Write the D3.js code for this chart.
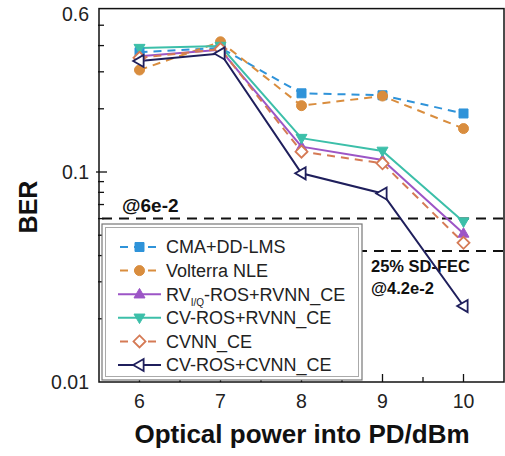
<!DOCTYPE html>
<html>
<head>
<meta charset="utf-8">
<script src="https://cdn.jsdelivr.net/npm/d3@7"></script>
<style>
  html, body { margin: 0; padding: 0; background: #fff; }
  svg { display: block; font-family: "Liberation Sans", Arial, sans-serif; }
</style>
</head>
<body>
<svg id="chart" width="505" height="456"></svg>
<script>
// Optical power (dBm) on the x axis
const power = [6, 7, 8, 9, 10];

// BER for each equalizer scheme
const cmaDdLms    = [0.372, 0.39, 0.237, 0.232, 0.19];
const volterraNle = [0.306, 0.417, 0.207, 0.23, 0.161];
const rvRosRvnn   = [0.356, 0.382, 0.132, 0.114, 0.051];
const cvRosRvnn   = [0.389, 0.398, 0.145, 0.126, 0.058];
const cvnnCe      = [0.35, 0.385, 0.125, 0.110, 0.046];
const cvRosCvnn   = [0.338, 0.367, 0.0986, 0.079, 0.023];

// FEC thresholds
const fecLimits = [0.06, 0.042];

const yTickLabels = [0.01, 0.1, 0.6];
const xTickLabels = [6, 7, 8, 9, 10];

const series = [
  { name: "CMA+DD-LMS", values: cmaDdLms, color: "#2f93d9", dash: "8,6", marker: "square", fill: true },
  { name: "Volterra NLE", values: volterraNle, color: "#d98d3e", dash: "8,6", marker: "circle", fill: true },
  { name: "RV_I/Q-ROS+RVNN_CE", values: rvRosRvnn, color: "#9c55c6", dash: null, marker: "triangleUp", fill: true },
  { name: "CV-ROS+RVNN_CE", values: cvRosRvnn, color: "#3cbfa9", dash: null, marker: "triangleDown", fill: true },
  { name: "CVNN_CE", values: cvnnCe, color: "#d57a55", dash: "8,6", marker: "diamond", fill: false },
  { name: "CV-ROS+CVNN_CE", values: cvRosCvnn, color: "#1f1f5c", dash: null, marker: "triangleLeft", fill: false }
];

const svg = d3.select("#chart");
const plotL = 99, plotR = 504, plotT = 8.6, plotB = 382;

const x = d3.scaleLinear().domain([5.5, 10.5]).range([plotL, plotR]);
const y = d3.scaleLog().domain([0.01, 0.6]).range([plotB, plotT]);

// marker paths centred on the origin
function markerPath(type, s) {
  switch (type) {
    case "square": return `M${-s},${-s}H${s}V${s}H${-s}Z`;
    case "circle": return d3.symbol(d3.symbolCircle, Math.PI * s * s)();
    case "triangleUp": return `M0,${-s * 1.15}L${s * 1.1},${s * 0.75}L${-s * 1.1},${s * 0.75}Z`;
    case "triangleDown": return `M0,${s * 1.15}L${s * 1.1},${-s * 0.75}L${-s * 1.1},${-s * 0.75}Z`;
    case "diamond": return `M0,${-s * 1.2}L${s * 1.2},0L0,${s * 1.2}L${-s * 1.2},0Z`;
    case "triangleLeft": return `M${-s * 1.15},0L${s * 0.75},${-s * 1.1}L${s * 0.75},${s * 1.1}Z`;
  }
}
const markerSize = { square: 4.5, circle: 5, triangleUp: 5, triangleDown: 5, diamond: 5, triangleLeft: 5.5 };

// frame
svg.append("rect")
  .attr("x", plotL).attr("y", plotT)
  .attr("width", plotR - plotL).attr("height", plotB - plotT)
  .attr("fill", "none").attr("stroke", "#111").attr("stroke-width", 1.5);

// y ticks (inward), majors at decades
const yMinor = [0.02, 0.03, 0.04, 0.05, 0.06, 0.07, 0.08, 0.09, 0.2, 0.3, 0.4, 0.5];
const yAxis = svg.append("g");
yAxis.selectAll("line.minor").data(yMinor).join("line")
  .attr("x1", plotL - 1).attr("x2", plotL + 5)
  .attr("y1", d => y(d)).attr("y2", d => y(d))
  .attr("stroke", "#111").attr("stroke-width", 1.3);
yAxis.selectAll("line.major").data([0.1]).join("line")
  .attr("x1", plotL - 3).attr("x2", plotL + 8)
  .attr("y1", d => y(d)).attr("y2", d => y(d))
  .attr("stroke", "#111").attr("stroke-width", 1.3);
yAxis.selectAll("text").data(yTickLabels).join("text")
  .attr("x", plotL - 10)
  .attr("y", d => d === 0.6 ? y(d) + 6 : y(d))
  .attr("dy", "0.35em")
  .attr("text-anchor", "end")
  .attr("font-size", 19.5)
  .attr("fill", "#222")
  .text(d => d);

// x ticks (inward), minors at half units
const xAxis = svg.append("g");
xAxis.selectAll("line.minor").data(d3.range(6.5, 10.5, 1)).join("line")
  .attr("x1", d => x(d)).attr("x2", d => x(d))
  .attr("y1", plotB).attr("y2", plotB - 5)
  .attr("stroke", "#111").attr("stroke-width", 1.3);
xAxis.selectAll("line.major").data(xTickLabels).join("line")
  .attr("x1", d => x(d)).attr("x2", d => x(d))
  .attr("y1", plotB).attr("y2", plotB - 8)
  .attr("stroke", "#111").attr("stroke-width", 1.3);
xAxis.selectAll("text").data(xTickLabels).join("text")
  .attr("x", d => x(d)).attr("y", 408)
  .attr("text-anchor", "middle")
  .attr("font-size", 19.5)
  .attr("fill", "#222")
  .text(d => d);

// axis titles
svg.append("text")
  .attr("x", 302).attr("y", 443)
  .attr("text-anchor", "middle")
  .attr("font-size", 26).attr("font-weight", "bold")
  .attr("fill", "#111")
  .text("Optical power into PD/dBm");
svg.append("text")
  .attr("transform", "translate(37,207) rotate(-90)")
  .attr("text-anchor", "middle")
  .attr("font-size", 25).attr("font-weight", "bold")
  .attr("fill", "#111")
  .text("BER");

// FEC threshold lines
svg.selectAll("line.fec").data(fecLimits).join("line")
  .attr("class", "fec")
  .attr("x1", plotL + 3).attr("x2", plotR)
  .attr("y1", d => y(d)).attr("y2", d => y(d))
  .attr("stroke", "#111").attr("stroke-width", 2)
  .attr("stroke-dasharray", "10,7");

svg.append("text")
  .attr("x", 122).attr("y", 212)
  .attr("font-size", 19).attr("font-weight", "bold").attr("fill", "#111")
  .text("@6e-2");
svg.append("text")
  .attr("x", 371).attr("y", 272)
  .attr("font-size", 16.5).attr("font-weight", "bold").attr("fill", "#111")
  .text("25% SD-FEC");
svg.append("text")
  .attr("x", 371).attr("y", 294)
  .attr("font-size", 16.5).attr("font-weight", "bold").attr("fill", "#111")
  .text("@4.2e-2");

// curves
const line = d3.line().x((d, i) => x(power[i])).y(d => y(d));
const curves = svg.append("g");
series.forEach(s => {
  curves.append("path")
    .attr("d", line(s.values))
    .attr("fill", "none")
    .attr("stroke", s.color)
    .attr("stroke-width", 2)
    .attr("stroke-dasharray", s.dash);
});
series.forEach(s => {
  curves.selectAll(null).data(s.values).join("path")
    .attr("transform", (d, i) => `translate(${x(power[i])},${y(d)})`)
    .attr("d", markerPath(s.marker, markerSize[s.marker]))
    .attr("fill", s.fill ? s.color : "#fff")
    .attr("stroke", s.color)
    .attr("stroke-width", s.fill ? 1 : 1.8);
});

// legend
const lg = svg.append("g");
lg.append("rect")
  .attr("x", 102).attr("y", 224).attr("width", 260).attr("height", 156)
  .attr("fill", "#fff").attr("stroke", "#777").attr("stroke-width", 1.2);
lg.append("rect")
  .attr("x", 105.5).attr("y", 227.5).attr("width", 253).attr("height", 149)
  .attr("fill", "none").attr("stroke", "#aaa").attr("stroke-width", 1);

const rowY = i => 247 + i * 23.6;
series.forEach((s, i) => {
  const cy = rowY(i);
  lg.append("line")
    .attr("x1", 118).attr("x2", 161)
    .attr("y1", cy).attr("y2", cy)
    .attr("stroke", s.color).attr("stroke-width", 2)
    .attr("stroke-dasharray", s.dash ? "8,6" : null)
    .attr("stroke-dashoffset", s.dash ? -2 : null);
  lg.append("path")
    .attr("transform", `translate(139.5,${cy})`)
    .attr("d", markerPath(s.marker, markerSize[s.marker]))
    .attr("fill", s.fill ? s.color : "#fff")
    .attr("stroke", s.color)
    .attr("stroke-width", s.fill ? 1 : 1.8);
  const t = lg.append("text")
    .attr("x", 166).attr("y", cy).attr("dy", "0.36em")
    .attr("font-size", 18).attr("fill", "#222");
  if (s.name.startsWith("RV_I/Q")) {
    t.append("tspan").text("RV");
    t.append("tspan").attr("font-size", 10).attr("dy", "0.5em").text("I/Q");
    t.append("tspan").attr("dy", "-0.28em").text("-ROS+RVNN_CE");
  } else {
    t.text(s.name);
  }
});
</script>
</body>
</html>
